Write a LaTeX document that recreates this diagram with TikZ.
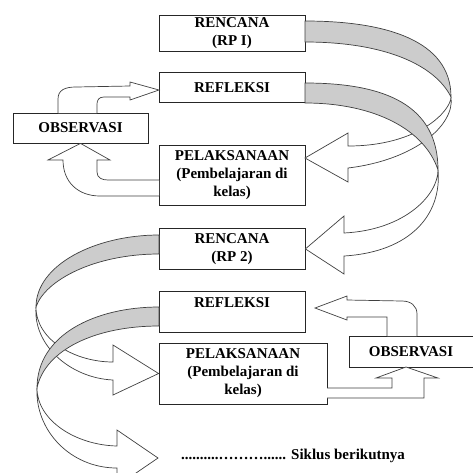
\documentclass[tikz,border=0pt]{standalone}
\usepackage{fontspec}
\setmainfont{Liberation Serif}
\usetikzlibrary{positioning}
\tikzset{
  stage/.style={
    % The shape:
    rectangle,
    % The size:
    minimum width=146pt, inner sep=0pt,
    % The border:
    draw=black!85, line width=0.8pt,
    % The filling:
    fill=white,
    % Font
    font=\bfseries\fontsize{15}{18}\selectfont, align=center},
  backface/.style={draw=black!75, line width=0.7pt, fill=black!20},
  frontface/.style={draw=black!75, line width=0.7pt, fill=white}
}

\begin{document}
\begin{tikzpicture}[x=1pt,y=-1pt,
                    note/.style={font=\bfseries\fontsize{15}{18}\selectfont,inner sep=0pt}]
  \path[use as bounding box,clip] (0,0) rectangle (473,472);

  \node (ren1) [stage,minimum height=36] at (232,33) {RENCANA\\(RP I)};
  \node (ref1) [stage,minimum height=30,below=21pt of ren1] {REFLEKSI};
  \node (pel1) [stage,minimum height=60,below=42pt of ref1] {PELAKSANAAN\\(Pembelajaran di\\kelas)};
  \node (ren2) [stage,minimum height=41,below=22pt of pel1] {RENCANA\\(RP 2)};
  \node (ref2) [stage,minimum height=41,below=21pt of ren2] {REFLEKSI\\\mbox{}};
  \node (pel2) [stage,minimum height=61,minimum width=168pt,
                below right=10pt and 0pt of ref2.south west] {PELAKSANAAN\\(Pembelajaran di\\kelas)};
  \node (obs1) [stage,minimum height=30,minimum width=135pt] at (80.5,128) {OBSERVASI};
  \node (obs2) [stage,minimum height=31,minimum width=124pt] at (411,351.5) {OBSERVASI};
  \node (next) [note,anchor=west] at (181,456) {..........………...... Siklus berikutnya};

  % first cycle
  \draw[backface] (305,21) .. controls (385,21) and (451,40) .. (451,97)
                  .. controls (435,65) and (385,42) .. (305,42) -- cycle;
  \draw[frontface] (451,97) .. controls (451,110) and (420,146) .. (348,146) -- (348,133) -- (305,158)
                   -- (348,182) -- (348,168) .. controls (415,160) and (455,125) .. (451,97) -- cycle;
  \draw[backface] (305,83) .. controls (385,83) and (438,105) .. (438,170)
                  .. controls (425,130) and (375,103) .. (305,103) -- cycle;
  \draw[frontface] (438,170) .. controls (438,195) and (405,230) .. (344,233) -- (344,216) -- (ren2.east)
                   -- (344,274) -- (344,256) .. controls (410,252) and (442,215) .. (438,170) -- cycle;
  \draw[frontface] (58,113) -- (58,99) .. controls (58,90) and (65,87) .. (76,87) -- (130,86) -- (130,82)
                   -- (159,90) -- (130,100) -- (130,97) -- (104,97) .. controls (99,97) and (97,100) .. (97,104) -- (97,113);
  \draw[frontface] (159,196) -- (100,196) .. controls (78,196) and (63,182) .. (63,160) -- (48,160) -- (obs1.south)
                   -- (110,160) -- (97,160) -- (97,172) .. controls (97,178) and (102,180) .. (108,180) -- (159,180);

  % second cycle
  \draw[backface] (159,235) .. controls (95,235) and (36,265) .. (36,307)
                  .. controls (45,280) and (95,254) .. (159,254) -- cycle;
  \draw[frontface] (36,307) .. controls (36,340) and (75,362) .. (113,362) -- (113,345) -- (pel2.west)
                   -- (113,395) -- (113,380) .. controls (70,378) and (33,345) .. (36,307) -- cycle;
  \draw[backface] (159,307) .. controls (95,307) and (37,335) .. (37,388)
                  .. controls (45,350) and (95,326) .. (159,326) -- cycle;
  \draw[frontface] (37,388) .. controls (37,420) and (75,445) .. (117,446) -- (117,430) -- (158,458)
                   -- (117,486) -- (117,468) .. controls (70,468) and (35,430) .. (37,388) -- cycle;
  \draw[frontface] (327,398) -- (424,398) -- (424,378) -- (438,378) -- (406,367) -- (376,378)
                   -- (392,378) -- (392,388) -- (327,388);
  \draw[frontface] (417,336) -- (417,314) .. controls (417,306) and (411,301) .. (402,301) -- (347,300) -- (347,296)
                   -- (315,308) -- (347,320) -- (347,317) -- (387,317) -- (387,336);
\end{tikzpicture}
\end{document}
